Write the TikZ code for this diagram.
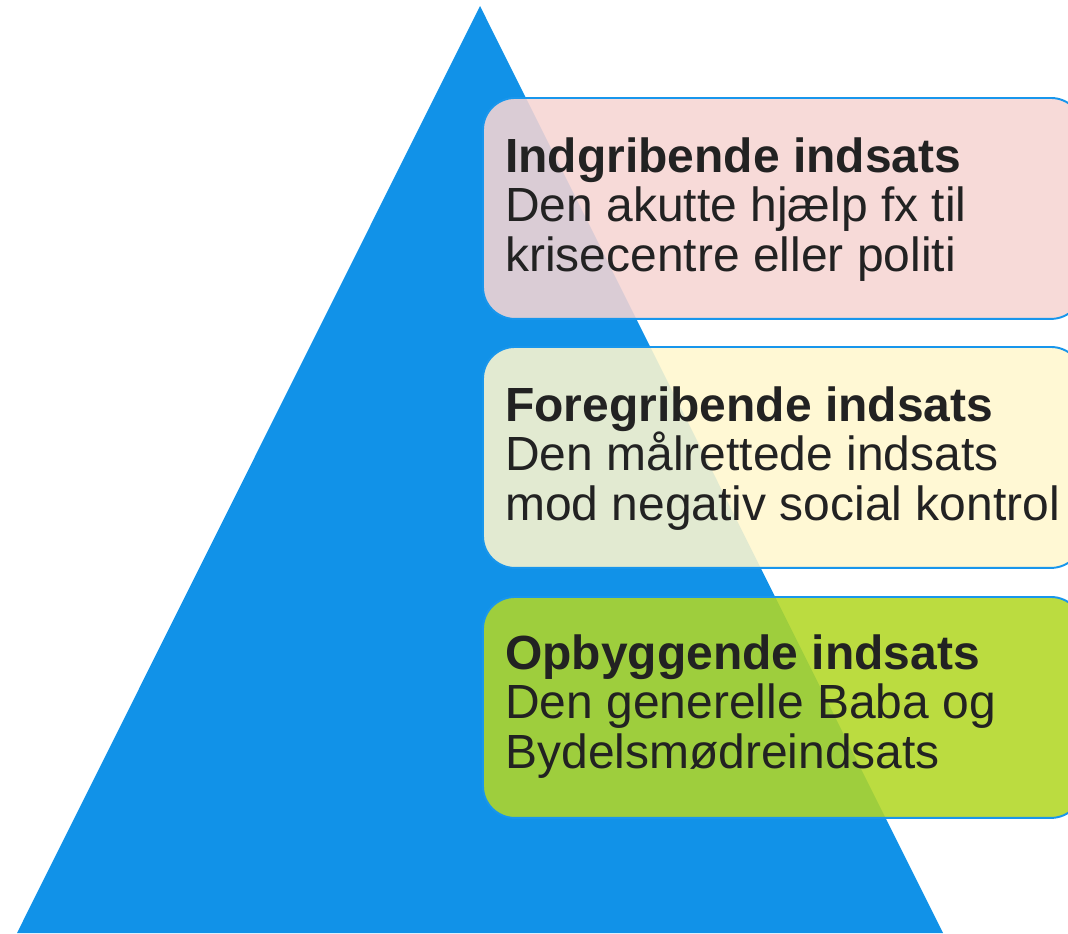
\documentclass[tikz,border=0pt]{standalone}
\usepackage{fontspec}
\setmainfont{Liberation Sans}
\definecolor{pyrblue}{HTML}{1192E8}
\definecolor{edgeblue}{HTML}{1896EC}
\definecolor{pinkbox}{RGB}{246,213,211}
\definecolor{yellowbox}{RGB}{255,247,206}
\definecolor{greenbox}{RGB}{178,215,38}
\definecolor{textgray}{HTML}{222222}

\begin{document}
\begin{tikzpicture}[x=0.02cm, y=-0.02cm,
        box/.style={draw=edgeblue, line width=1.1pt, rounded corners=0.64cm, fill opacity=0.88,
            anchor=north west, minimum width=12cm, minimum height=4.42cm, inner sep=0pt},
        txt/.style={anchor=base west, align=left, inner sep=0pt, text=textgray,
            font=\fontsize{27.3}{27.9}\selectfont}]
        \useasboundingbox (0, 0) rectangle (1068, 933);
        \clip (0, 0) rectangle (1068, 933);

        \fill [pyrblue] (480, 6) -- (943, 933) -- (17, 933) -- cycle;

        \node [box, fill=pinkbox] (indgrib) at (482, 97) {};
        \node [box, fill=yellowbox] (foregrib) at (482, 346) {};
        \node [box, fill=greenbox] (opbyg) at (482, 596) {};

        \node [txt] (indgribtxt) at (505, 271) {\textbf{Indgribende indsats}\\Den akutte hjælp fx til\\krisecentre eller politi};
        \node [txt] (foregribtxt) at (505, 520) {\textbf{Foregribende indsats}\\Den målrettede indsats\\mod negativ social kontrol};
        \node [txt] (opbygtxt) at (505, 768) {\textbf{Opbyggende indsats}\\Den generelle Baba og\\Bydelsmødreindsats};
\end{tikzpicture}
\end{document}
